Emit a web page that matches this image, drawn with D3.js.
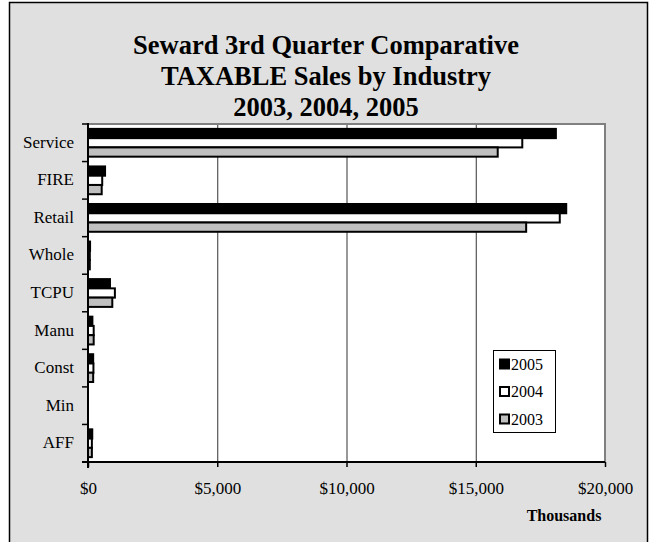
<!DOCTYPE html>
<html><head><meta charset="utf-8">
<script src="https://cdn.jsdelivr.net/npm/d3@7"></script>
<style>body{margin:0;background:#fff}svg{display:block}</style>
</head><body>
<svg id="c" width="650" height="542"></svg>
<script>
const categories = ["Service","FIRE","Retail","Whole","TCPU","Manu","Const","Min","AFF"];
const series = ["2005","2004","2003"];
const v2005 = [18100, 660, 18500, 80, 850, 170, 200, 0, 165];
const v2004 = [16800, 550, 18250, 70, 1040, 220, 210, 0, 150];
const v2003 = [15850, 530, 16950, 70, 940, 220, 200, 0, 150];
const xTicks = [0, 5000, 10000, 15000, 20000];
const titleLines = ["Seward 3rd Quarter Comparative","TAXABLE Sales by Industry","2003, 2004, 2005"];
const fills = {"2005":"#000000","2004":"#ffffff","2003":"#c0c0c0"};
const values = {"2005":v2005,"2004":v2004,"2003":v2003};

const svg = d3.select("#c");
const font = "'Liberation Serif','Times New Roman',serif";

svg.append("rect").attr("x",9.5).attr("y",2.5).attr("width",638).attr("height",560)
  .attr("fill","#e0e0e0").attr("stroke","#000").attr("stroke-width",1.5);

const m = {l:88, r:605, t:124, b:462};
const x = d3.scaleLinear().domain([0,20000]).range([m.l,m.r]);
const y = d3.scaleBand().domain(categories).range([m.t,m.b]).paddingInner(0.26).paddingOuter(0.13);
const ys = d3.scaleBand().domain(series).range([0,y.bandwidth()]);

svg.append("rect").attr("x",m.l).attr("y",m.t).attr("width",m.r-m.l).attr("height",m.b-m.t).attr("fill","#fff");
// gridlines
svg.append("g").selectAll("line").data(xTicks.slice(1,-1)).join("line")
  .attr("x1",d=>x(d)+0.5).attr("x2",d=>x(d)+0.5).attr("y1",m.t).attr("y2",m.b)
  .attr("stroke","#333").attr("stroke-width",1);
// plot frame grey
svg.append("path").attr("d",`M${m.l},${m.t}H${m.r}V${m.b}`).attr("fill","none")
  .attr("stroke","#808080").attr("stroke-width",2);

// bars
const g = svg.append("g");
categories.forEach((c,i)=>{
  series.forEach(s=>{
    const val = values[s][i];
    if (val <= 0) return;
    g.append("rect").attr("x",x(0)).attr("y",y(c)+ys(s))
      .attr("width",x(val)-x(0)).attr("height",ys.bandwidth())
      .attr("fill",fills[s]).attr("stroke","#000").attr("stroke-width",2);
  });
});

// y axis
const yAxisG = svg.append("g").attr("transform",`translate(${m.l},0)`);
yAxisG.append("line").attr("x1",0).attr("x2",0).attr("y1",m.t-1).attr("y2",m.b+6).attr("stroke","#000").attr("stroke-width",2);
const bounds = d3.range(categories.length+1).map(i=>m.t+i*(m.b-m.t)/categories.length);
yAxisG.selectAll("line.t").data(bounds).join("line").attr("class","t")
  .attr("x1",-6).attr("x2",0).attr("y1",d=>d).attr("y2",d=>d).attr("stroke","#000").attr("stroke-width",1.5);
yAxisG.selectAll("text").data(categories).join("text")
  .attr("x",-14).attr("y",c=>y(c)+y.bandwidth()/2 - 1).attr("dy","0.35em")
  .attr("text-anchor","end").attr("font-family",font).attr("font-size",17).text(d=>d);

// x axis
const xAxis = d3.axisBottom(x).tickValues(xTicks).tickSize(5).tickFormat(d=>"$"+d3.format(",")(d));
const xg = svg.append("g").attr("transform",`translate(0,${m.b})`).call(xAxis);
xg.select(".domain").attr("stroke","#000").attr("stroke-width",2).attr("d",`M${m.l-6},0H${m.r}`);
xg.selectAll(".tick line").attr("stroke","#000").attr("stroke-width",1.5);
xg.selectAll(".tick text").attr("font-family",font).attr("font-size",17).attr("fill","#000").attr("y",20);

svg.append("text").attr("x",564).attr("y",521).attr("text-anchor","middle")
  .attr("font-family",font).attr("font-size",16).attr("font-weight","bold").text("Thousands");

// title
svg.append("g").selectAll("text").data(titleLines).join("text")
  .attr("x",326).attr("y",(d,i)=>54+i*31).attr("text-anchor","middle")
  .attr("font-family",font).attr("font-size",26.5).attr("font-weight","bold").text(d=>d);

// legend
const lg = svg.append("g");
lg.append("rect").attr("x",493.5).attr("y",350.5).attr("width",62).attr("height",82).attr("fill","#fff").attr("stroke","#000").attr("stroke-width",1);
series.forEach((s,i)=>{
  const cy = 364 + i*27.5;
  lg.append("rect").attr("x",500).attr("y",cy-4.5).attr("width",9).attr("height",9)
    .attr("fill",fills[s]).attr("stroke","#000").attr("stroke-width",2);
  lg.append("text").attr("x",511).attr("y",cy).attr("dy","0.35em")
    .attr("font-family",font).attr("font-size",16).text(s);
});
</script>
</body></html>
